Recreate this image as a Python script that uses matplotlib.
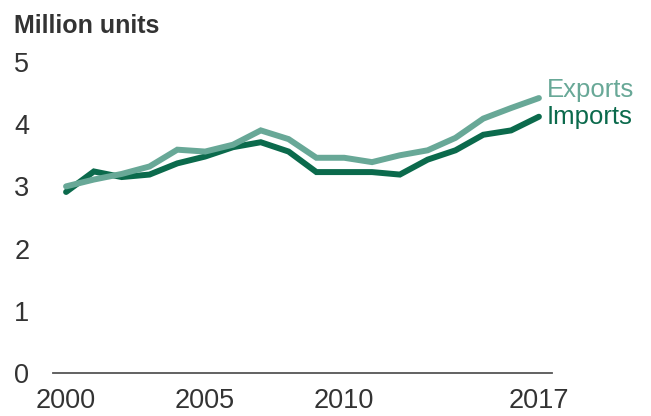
import matplotlib.pyplot as plt

plt.rcParams["font.family"] = ["Liberation Sans", "DejaVu Sans"]

# Data
years = list(range(2000, 2018))
exports = [3.00, 3.11, 3.20, 3.32, 3.59, 3.56, 3.67, 3.90, 3.76, 3.46,
           3.46, 3.39, 3.50, 3.58, 3.78, 4.09, 4.26, 4.42]
imports = [2.91, 3.24, 3.15, 3.19, 3.37, 3.48, 3.63, 3.71, 3.56, 3.23,
           3.23, 3.23, 3.19, 3.43, 3.58, 3.83, 3.90, 4.12]
xtick_years = [2000, 2005, 2010, 2017]
ytick_values = [0, 1, 2, 3, 4, 5]

light = "#68a897"
dark = "#0b6a4c"
text_col = "#333333"

fig = plt.figure(figsize=(6.51, 4.16), dpi=100)
ax = fig.add_axes([0.0814, 0.1034, 0.7665, 0.7476])

ax.plot(years, imports, color=dark, lw=4.3, solid_capstyle="round", solid_joinstyle="miter")
ax.plot(years, exports, color=light, lw=4.3, solid_capstyle="round", solid_joinstyle="miter")

ax.set_xlim(1999.53, 2017.47)
ax.set_ylim(0, 5)
ax.set_xticks(xtick_years)
ax.set_yticks(ytick_values)
ax.tick_params(axis="both", length=0, labelsize=19.5, labelcolor=text_col)
ax.tick_params(axis="x", pad=11)
ax.tick_params(axis="y", pad=17)

for s in ["top", "right", "left"]:
    ax.spines[s].set_visible(False)
ax.spines["bottom"].set_color("#555555")
ax.spines["bottom"].set_linewidth(1.3)

# Line labels
ax.text(2017.27, 4.44, "Exports", color=light, fontsize=18.5,
        va="baseline", ha="left")
ax.text(2017.27, 4.00, "Imports", color=dark, fontsize=18.5,
        va="baseline", ha="left")

fig.text(0.022, 0.921, "Million units", fontsize=18, fontweight="bold",
         color=text_col, va="baseline", ha="left")

fig.savefig("out.png", dpi=100)
